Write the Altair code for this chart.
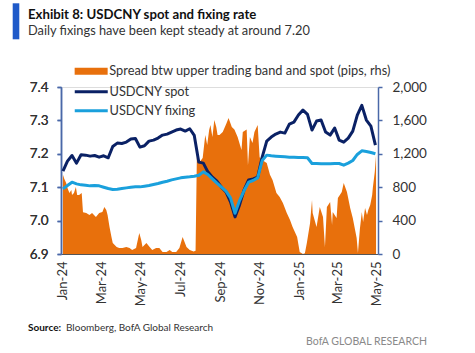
import altair as alt
import pandas as pd

# ---------------- data ----------------
week_dates = pd.date_range("2024-01-02", periods=70, freq="7D").strftime("%Y-%m-%d").tolist()

spot = [7.148, 7.178, 7.195, 7.172, 7.197, 7.196, 7.193, 7.195, 7.190, 7.194,
        7.188, 7.222, 7.232, 7.231, 7.235, 7.244, 7.246, 7.220, 7.224, 7.238,
        7.241, 7.247, 7.256, 7.259, 7.265, 7.271, 7.274, 7.268, 7.275, 7.255,
        7.175, 7.172, 7.146, 7.130, 7.118, 7.100, 7.086, 7.056, 7.011, 7.047,
        7.092, 7.122, 7.125, 7.130, 7.190, 7.238, 7.250, 7.259, 7.265, 7.262,
        7.289, 7.295, 7.316, 7.331, 7.318, 7.271, 7.298, 7.301, 7.265, 7.256,
        7.277, 7.241, 7.235, 7.247, 7.268, 7.316, 7.345, 7.301, 7.283, 7.226]

fixing = [7.095, 7.105, 7.115, 7.110, 7.107, 7.106, 7.104, 7.105, 7.104, 7.100,
          7.096, 7.093, 7.094, 7.096, 7.098, 7.100, 7.101, 7.101, 7.103, 7.105,
          7.108, 7.111, 7.115, 7.118, 7.122, 7.125, 7.128, 7.130, 7.131, 7.133,
          7.136, 7.146, 7.138, 7.125, 7.112, 7.100, 7.088, 7.068, 7.022, 7.060,
          7.090, 7.115, 7.120, 7.128, 7.180, 7.196, 7.194, 7.193, 7.192, 7.191,
          7.190, 7.190, 7.189, 7.189, 7.188, 7.171, 7.171, 7.170, 7.170, 7.170,
          7.171, 7.171, 7.166, 7.172, 7.180, 7.198, 7.209, 7.207, 7.204, 7.200]

spread_dates = [
    "2024-01-02", "2024-01-04", "2024-01-07", "2024-01-09", "2024-01-12", "2024-01-15",
    "2024-01-16", "2024-01-19", "2024-01-22", "2024-01-24", "2024-01-27", "2024-01-31",
    "2024-02-02", "2024-02-07", "2024-02-12", "2024-02-16", "2024-02-22", "2024-02-27",
    "2024-03-03", "2024-03-06", "2024-03-09", "2024-03-11", "2024-03-14", "2024-03-17",
    "2024-03-19", "2024-03-25", "2024-03-29", "2024-04-03", "2024-04-09", "2024-04-14",
    "2024-04-18", "2024-04-24", "2024-04-29", "2024-05-02", "2024-05-04", "2024-05-10",
    "2024-05-15", "2024-05-19", "2024-05-25", "2024-05-30", "2024-06-04", "2024-06-10",
    "2024-06-15", "2024-06-19", "2024-06-25", "2024-06-30", "2024-07-05", "2024-07-11",
    "2024-07-16", "2024-07-22", "2024-07-25", "2024-07-27", "2024-07-31", "2024-08-05",
    "2024-08-09", "2024-08-12", "2024-08-15", "2024-08-17", "2024-08-20", "2024-08-23",
    "2024-08-26", "2024-08-28", "2024-08-31", "2024-09-05", "2024-09-11", "2024-09-14",
    "2024-09-19", "2024-09-23", "2024-09-28", "2024-10-04", "2024-10-06", "2024-10-12",
    "2024-10-14", "2024-10-17", "2024-10-21", "2024-10-24", "2024-10-29", "2024-11-01",
    "2024-11-06", "2024-11-12", "2024-11-17", "2024-11-21", "2024-11-27", "2024-12-02",
    "2024-12-07", "2024-12-13", "2024-12-18", "2024-12-22", "2024-12-29", "2025-01-02",
    "2025-01-07", "2025-01-10", "2025-01-13", "2025-01-18", "2025-01-21", "2025-01-22",
    "2025-01-28", "2025-02-02", "2025-02-07", "2025-02-10", "2025-02-13", "2025-02-18",
    "2025-02-21", "2025-02-22", "2025-02-28", "2025-03-02", "2025-03-08", "2025-03-11",
    "2025-03-16", "2025-03-21", "2025-03-25", "2025-03-31", "2025-04-02", "2025-04-05",
    "2025-04-08", "2025-04-10", "2025-04-13", "2025-04-16", "2025-04-18", "2025-04-21",
    "2025-04-24", "2025-04-25", "2025-04-28", "2025-04-30"]

spread_pips = [
    950, 900, 850, 790, 730, 766,
    707, 730, 802, 707, 707, 730,
    500, 490, 467, 490, 443, 490,
    503, 563, 527, 467, 323, 204,
    132, 84, 72, 72, 84, 72,
    48, 72, 251, 168, 84, 132,
    84, 48, 72, 72, 24, 24,
    48, 24, 24, 72, 204, 84,
    48, 30, 40, 1160, 1100, 1150,
    1425, 1305, 1485, 1545, 1400, 1605,
    1520, 1425, 1425, 1460, 1570, 1630,
    1520, 1490, 1400, 1245, 1460, 1490,
    1060, 1400, 1330, 1460, 1545, 1160,
    1120, 1090, 950, 886, 730, 683,
    610, 490, 407, 323, 204, 24,
    0, 10, 132, 371, 647, 490,
    323, 563, 443, 80, 563, 623,
    347, 503, 431, 671, 743, 850,
    743, 551, 431, 192, 12, 300,
    503, 383, 551, 467, 527, 587,
    707, 790, 982, 1186]

SPREAD = "Spread btw upper trading band and spot (pips, rhs)"
SPOT = "USDCNY spot"
FIX = "USDCNY fixing"

x_ticks = ["2024-01-01", "2024-03-01", "2024-05-01", "2024-07-01", "2024-09-01",
           "2024-11-01", "2025-01-01", "2025-03-01", "2025-05-01"]
left_ticks = [6.9, 7.0, 7.1, 7.2, 7.3, 7.4]
right_ticks = [0, 400, 800, 1200, 1600, 2000]

# ---------------- tables ----------------
spread_df = pd.DataFrame({"date": spread_dates, "pips": spread_pips, "series": SPREAD})
line_df = pd.concat([
    pd.DataFrame({"date": week_dates, "value": spot, "series": SPOT}),
    pd.DataFrame({"date": week_dates, "value": fixing, "series": FIX}),
])
one = pd.DataFrame({"a": [0]})

# ---------------- style ----------------
FONT = "Liberation Sans Narrow, Arial Narrow, Lato, sans-serif"
ORANGE = "#E8700C"
NAVY = "#0A2165"
CYAN = "#1AA0DC"
AXC = "#4A68A8"
TXT = "#333333"


def to_dt(s):
    y, m, d = [int(p) for p in s.split("-")]
    return alt.DateTime(year=y, month=m, date=d, utc=True)


x_scale = alt.Scale(type="utc", domain=[to_dt("2023-12-30"), to_dt("2025-05-03")])
x_axis = alt.Axis(values=[to_dt(t) for t in x_ticks], format="%b-%y", labelAngle=270,
                  labelPadding=7, ticks=False, domainColor="#555555", domainWidth=1,
                  labelFontSize=13, labelColor=TXT, labelFont=FONT, grid=False,
                  title=None, labelFlush=False, labelOverlap=False)
x_enc = alt.X("date:T", scale=x_scale, axis=x_axis)

area = alt.Chart(spread_df).mark_area(interpolate="linear", opacity=1).encode(
    x=x_enc,
    y=alt.Y("pips:Q", scale=alt.Scale(domain=[0, 2000], nice=False, zero=True),
            axis=alt.Axis(orient="right", values=right_ticks, format=",d", domainColor=AXC,
                          domainWidth=1.5, tickColor=AXC, tickWidth=1.5, tickSize=4,
                          labelPadding=10, labelFontSize=13.5, labelColor=TXT,
                          labelFont=FONT, grid=False, title=None)),
    fill=alt.Fill("series:N", scale=alt.Scale(domain=[SPREAD], range=[ORANGE]),
                  legend=alt.Legend(orient="none", legendX=14, legendY=-22.25, title=None,
                                    symbolType="M-1.35,-0.7H5.25V0.7H-1.35Z", symbolSize=100,
                                    symbolStrokeWidth=0, symbolOpacity=1, labelOffset=21.5,
                                    labelFontSize=12.8, labelFont=FONT, labelColor=TXT,
                                    padding=0, labelLimit=400)),
)

left_y = alt.Y("value:Q", scale=alt.Scale(domain=[6.9, 7.4], nice=False, zero=False),
               axis=alt.Axis(orient="left", values=left_ticks, format=".1f", domainColor=AXC,
                             domainWidth=1.5, tickColor=AXC, tickWidth=1.5, tickSize=4,
                             labelPadding=9, labelFontSize=13.5, labelColor=TXT,
                             labelFont=FONT, grid=False, title=None))
stroke_enc = alt.Stroke("series:N", scale=alt.Scale(domain=[SPOT, FIX], range=[NAVY, CYAN]),
                        legend=alt.Legend(orient="none", legendX=14, legendY=-1.75, title=None,
                                          symbolType="M-1.35,0H5.25", symbolSize=100,
                                          symbolStrokeWidth=3, labelOffset=21.5, rowPadding=5,
                                          labelFontSize=12.8, labelFont=FONT, labelColor=TXT,
                                          padding=0, labelLimit=400))

spot_line = alt.Chart(line_df).transform_filter(alt.datum.series == SPOT).mark_line(
    strokeWidth=3, strokeJoin="round").encode(x=x_enc, y=left_y, stroke=stroke_enc)
fix_line = alt.Chart(line_df).transform_filter(alt.datum.series == FIX).mark_line(
    strokeWidth=3, strokeJoin="round").encode(x=x_enc, y=left_y, stroke=stroke_enc)

# ---------------- titles and notes ----------------
bar = alt.Chart(one).mark_rect(color="#1F5AC9").encode(
    x=alt.value(-48.3), x2=alt.value(-41.7), y=alt.value(-83.7), y2=alt.value(-47.7))
title = alt.Chart(one).mark_text(align="left", baseline="alphabetic", font=FONT, fontSize=13.2,
                                 fontWeight="bold", color="#111111").encode(
    x=alt.value(-33), y=alt.value(-68.5), text=alt.value("Exhibit 8: USDCNY spot and fixing rate"))
subtitle = alt.Chart(one).mark_text(align="left", baseline="alphabetic", font=FONT, fontSize=12.8,
                                    color=TXT).encode(
    x=alt.value(-33), y=alt.value(-52.5),
    text=alt.value("Daily fixings have been kept steady at around 7.20"))
src1 = alt.Chart(one).mark_text(align="left", baseline="alphabetic", font=FONT, fontSize=10,
                                fontWeight="bold", color="#111111").encode(
    x=alt.value(-33), y=alt.value(244), text=alt.value("Source:"))
src2 = alt.Chart(one).mark_text(align="left", baseline="alphabetic", font=FONT, fontSize=10,
                                color=TXT).encode(
    x=alt.value(5), y=alt.value(244), text=alt.value("Bloomberg, BofA Global Research"))
brand = alt.Chart(one).mark_text(align="right", baseline="alphabetic", font=FONT, fontSize=10.5,
                                 color="#8A8A8A").encode(
    x=alt.value(366), y=alt.value(258), text=alt.value("BofA GLOBAL RESEARCH"))

chart = alt.layer(area, spot_line, fix_line, bar, title, subtitle, src1, src2, brand).resolve_scale(
    y="independent"
).properties(
    width=317, height=167,
    padding={"left": 61, "top": 87, "right": 97, "bottom": 99},
    autosize=alt.AutoSizeParams(type="none"),
    background="white",
).configure_view(stroke=None).configure(font=FONT)

chart.save("out.html", embed_options={"renderer": "svg", "actions": False})
